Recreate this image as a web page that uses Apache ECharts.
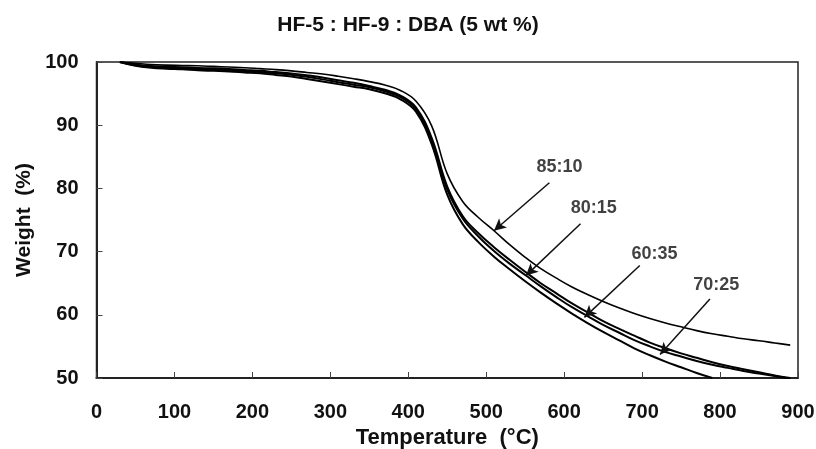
<!DOCTYPE html>
<html>
<head>
<meta charset="utf-8">
<script src="https://cdn.jsdelivr.net/npm/echarts@6/dist/echarts.min.js"></script>
<style>
  html, body { margin: 0; padding: 0; background: #fff; }
  #chart { width: 816px; height: 449px; }
</style>
</head>
<body>
<div id="chart"></div>
<script>
// TGA curves, weight (%) vs temperature (°C), read every 20 °C
const temps = [30, 50, 70, 90, 110, 130, 150, 170, 190, 210, 230, 250, 270, 290, 310, 330, 350, 370, 390, 410,
  430, 450, 470, 490, 510, 530, 550, 570, 590, 610, 630, 650, 670, 690, 710, 730, 750, 770, 790, 810, 830, 850, 870, 890]
const w8510 = [100, 99.8, 99.6, 99.5, 99.45, 99.4, 99.3, 99.2, 99.1, 98.95, 98.8, 98.6, 98.35, 98.1, 97.75, 97.35, 96.9, 96.35, 95.5, 93.8,
  89.9, 82.3, 77.9, 75.4, 73.3, 71.1, 69.1, 67.3, 65.8, 64.4, 63.2, 62.1, 61.1, 60.2, 59.4, 58.7, 58.1, 57.5, 57.0, 56.6, 56.2, 55.9, 55.55, 55.2]
const w8015 = [100, 99.6, 99.35, 99.25, 99.15, 99.05, 99.0, 98.9, 98.75, 98.6, 98.4, 98.2, 97.9, 97.55, 97.1, 96.7, 96.2, 95.6, 94.7, 92.8,
  88.0, 80.3, 75.6, 72.9, 70.7, 68.7, 66.8, 65.0, 63.4, 61.8, 60.4, 59.0, 57.8, 56.7, 55.6, 54.7, 53.9, 53.2, 52.5, 51.9, 51.4, 50.9, 50.4, 50.0]
const w6035 = [100, 99.5, 99.25, 99.1, 99.0, 98.9, 98.8, 98.7, 98.55, 98.4, 98.2, 98.0, 97.65, 97.25, 96.8, 96.4, 96.0, 95.35, 94.45, 92.5,
  87.5, 79.8, 75.2, 72.4, 70.1, 68.1, 66.3, 64.5, 62.8, 61.2, 59.8, 58.4, 57.2, 56.0, 55.0, 54.1, 53.4, 52.7, 52.1, 51.6, 51.1, 50.7, 50.3, 49.9]
const w7025 = [100, 99.4, 99.1, 98.95, 98.85, 98.7, 98.6, 98.5, 98.35, 98.2, 97.95, 97.7, 97.3, 96.9, 96.5, 96.1, 95.7, 95.05, 94.1, 92.1,
  87.0, 79.0, 74.3, 71.5, 69.2, 67.2, 65.3, 63.5, 61.8, 60.2, 58.7, 57.3, 56.0, 54.7, 53.6, 52.6, 51.7, 50.8, 50.0, null, null, null, null, null]

// annotation arrows: text, label position, arrow tail, arrow tip (data units)
const noteText = ['85:10', '80:15', '60:35', '70:25']
const noteLabel = [[594, 83.4], [638, 76.9], [716, 69.6], [795, 64.7]]
const noteTail = [[581, 80.9], [621, 74.4], [697, 67.8], [787, 62.5]]
const noteTip = [[510, 73.3], [551, 66.2], [626, 59.6], [723, 53.7]]

const xTicks = [0, 900, 100]
const yTicks = [50, 100, 10]

const font = '"Liberation Sans", Arial, sans-serif'

function pairs (ys) {
  return temps.map((t, i) => [t, ys[i]])
}

function curve (name, ys, width) {
  return {
    name: name,
    type: 'line',
    data: pairs(ys),
    showSymbol: false,
    smooth: 0.4,
    connectNulls: false,
    lineStyle: { color: '#000', width: width },
    z: 3
  }
}

const chart = echarts.init(document.getElementById('chart'))

const option = {
  animation: false,
  backgroundColor: '#fff',
  title: {
    text: 'HF-5 : HF-9 : DBA (5 wt %)',
    left: 'center',
    top: 10,
    textStyle: { fontFamily: font, fontSize: 21, fontWeight: 'bold', color: '#111' }
  },
  grid: {
    left: 96.5,
    right: 18,
    top: 62,
    bottom: 71,
    outerBoundsMode: 'none',
    show: true,
    borderColor: '#222',
    borderWidth: 1.5
  },
  xAxis: {
    type: 'value',
    min: xTicks[0],
    max: xTicks[1],
    interval: xTicks[2],
    name: 'Temperature  (°C)',
    nameLocation: 'middle',
    nameGap: 40,
    nameTextStyle: { fontFamily: font, fontSize: 22, fontWeight: 'bold', color: '#111' },
    axisLine: { lineStyle: { color: '#222', width: 2 } },
    axisTick: { inside: true, length: 6, lineStyle: { color: '#444' } },
    axisLabel: { margin: 24, fontFamily: font, fontSize: 20, fontWeight: 'bold', color: '#111' },
    splitLine: { show: false }
  },
  yAxis: {
    type: 'value',
    min: yTicks[0],
    max: yTicks[1],
    interval: yTicks[2],
    name: 'Weight  (%)',
    nameLocation: 'middle',
    nameGap: 62,
    nameTextStyle: { fontFamily: font, fontSize: 21, fontWeight: 'bold', color: '#111' },
    axisLine: { lineStyle: { color: '#222', width: 2 } },
    axisTick: { inside: true, length: 6, lineStyle: { color: '#444' } },
    axisLabel: { margin: 18, fontFamily: font, fontSize: 20, fontWeight: 'bold', color: '#111' },
    splitLine: { show: false }
  },
  series: [
    curve('85:10', w8510, 1.6),
    curve('80:15', w8015, 2),
    curve('60:35', w6035, 2),
    curve('70:25', w7025, 2),
    {
      name: 'notes',
      type: 'scatter',
      symbolSize: 0,
      data: noteLabel.map((p, i) => ({ value: p, name: noteText[i] })),
      label: {
        show: true,
        position: 'inside',
        formatter: (p) => p.name,
        fontFamily: font,
        fontSize: 18,
        fontWeight: 'bold',
        color: '#111'
      },
      markLine: {
        silent: true,
        symbol: ['none', 'arrow'],
        symbolSize: [9, 12],
        label: { show: false },
        lineStyle: { color: '#111', width: 1.5, type: 'solid' },
        data: noteTail.map((p, i) => [{ coord: p }, { coord: noteTip[i] }])
      },
      z: 4
    }
  ]
}

chart.setOption(option)
</script>
</body>
</html>
